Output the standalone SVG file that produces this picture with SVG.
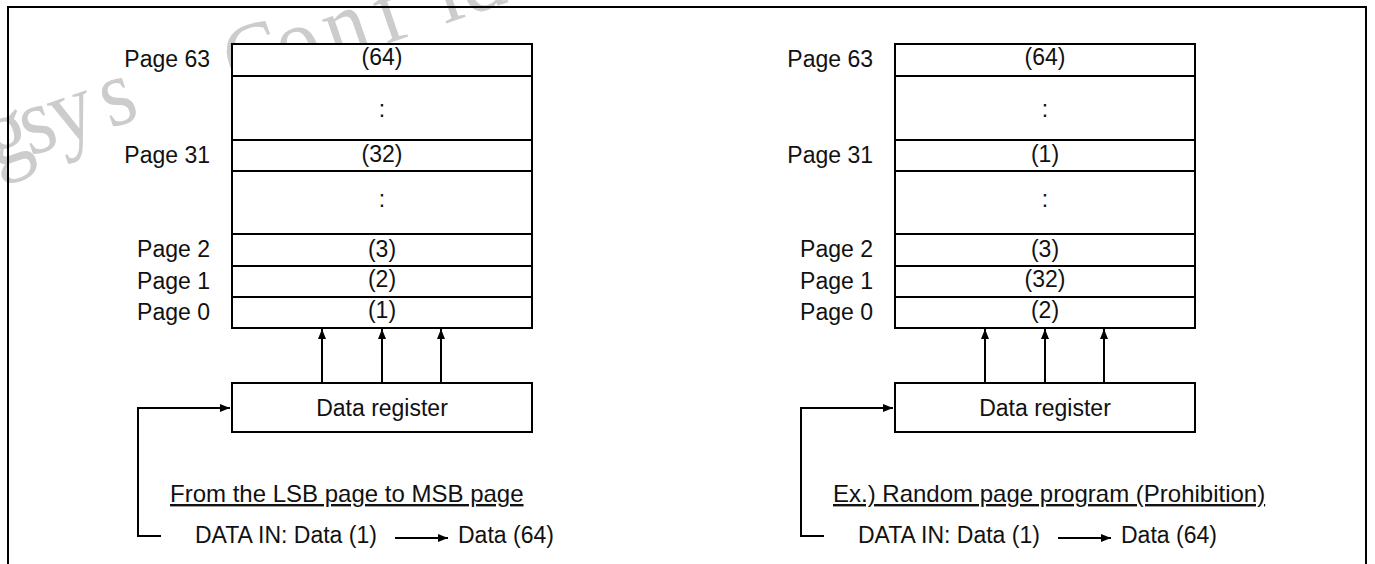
<svg xmlns="http://www.w3.org/2000/svg" width="1375" height="564" viewBox="0 0 1375 564">
<defs>
<marker id="ah" viewBox="0 0 10 8" refX="10" refY="4" markerWidth="10" markerHeight="8" markerUnits="userSpaceOnUse" orient="auto"><path d="M0,0 L10,4 L0,8 z" fill="#000"/></marker>
<style>
.t{font-family:"Liberation Sans",Arial,sans-serif;font-size:23px;fill:#111}
.c{text-anchor:middle}
.e{text-anchor:end}
.u{text-decoration:underline;font-size:24px}
.box{fill:#fff;stroke:#000;stroke-width:2}
.ln{fill:none;stroke:#000;stroke-width:2}
.wm{font-family:"Liberation Serif","Times New Roman",serif;font-size:96px;fill:#cccccc}
</style>
</defs>
<rect width="1375" height="564" fill="#fff"/>
<g id="watermark">
<text class="wm" y="0" transform="translate(228,88) rotate(-19) scale(0.9,1)" x="-445 -385 -330 -273.7 -232.6 -197.3 -138.6 -75 6 65 121.3 180 250.5 278.7 338 393 448 478 508 558" dy="0 0 0 0 0 0 0 0 10">Longsys Confidential</text>
</g>
<g id="frame"><path class="ln" d="M8,564 V7 H1366 V564"/></g>

<g id="left-memory">
<rect class="box" x="232" y="44" width="300" height="32"/>
<rect class="box" x="232" y="76" width="300" height="64"/>
<rect class="box" x="232" y="140" width="300" height="31"/>
<rect class="box" x="232" y="171" width="300" height="63"/>
<rect class="box" x="232" y="234" width="300" height="32"/>
<rect class="box" x="232" y="266" width="300" height="31"/>
<rect class="box" x="232" y="297" width="300" height="31"/>
<text class="t c" x="382" y="65">(64)</text>
<text class="t c" x="382" y="117">:</text>
<text class="t c" x="382" y="162">(32)</text>
<text class="t c" x="382" y="207">:</text>
<text class="t c" x="382" y="257">(3)</text>
<text class="t c" x="382" y="287">(2)</text>
<text class="t c" x="382" y="318">(1)</text>
</g>
<g id="left-labels">
<text class="t e" x="210" y="67">Page 63</text>
<text class="t e" x="210" y="163">Page 31</text>
<text class="t e" x="210" y="257">Page 2</text>
<text class="t e" x="210" y="289">Page 1</text>
<text class="t e" x="210" y="320">Page 0</text>
</g>
<g id="left-register">
<rect class="box" x="232" y="383" width="300" height="49"/>
<text class="t c" x="382" y="416">Data register</text>
</g>
<g id="left-caption">
<text class="t u" x="170" y="502">From the LSB page to MSB page</text>
<text class="t" x="195" y="543">DATA IN: Data (1)</text>
<text class="t" x="458" y="543">Data (64)</text>
</g>

<g id="right-memory">
<rect class="box" x="895" y="44" width="300" height="32"/>
<rect class="box" x="895" y="76" width="300" height="64"/>
<rect class="box" x="895" y="140" width="300" height="31"/>
<rect class="box" x="895" y="171" width="300" height="63"/>
<rect class="box" x="895" y="234" width="300" height="32"/>
<rect class="box" x="895" y="266" width="300" height="31"/>
<rect class="box" x="895" y="297" width="300" height="31"/>
<text class="t c" x="1045" y="65">(64)</text>
<text class="t c" x="1045" y="117">:</text>
<text class="t c" x="1045" y="162">(1)</text>
<text class="t c" x="1045" y="207">:</text>
<text class="t c" x="1045" y="257">(3)</text>
<text class="t c" x="1045" y="287">(32)</text>
<text class="t c" x="1045" y="318">(2)</text>
</g>
<g id="right-labels">
<text class="t e" x="873" y="67">Page 63</text>
<text class="t e" x="873" y="163">Page 31</text>
<text class="t e" x="873" y="257">Page 2</text>
<text class="t e" x="873" y="289">Page 1</text>
<text class="t e" x="873" y="320">Page 0</text>
</g>
<g id="right-register">
<rect class="box" x="895" y="383" width="300" height="49"/>
<text class="t c" x="1045" y="416">Data register</text>
</g>
<g id="right-caption">
<text class="t u" x="833" y="502">Ex.) Random page program (Prohibition)</text>
<text class="t" x="858" y="543">DATA IN: Data (1)</text>
<text class="t" x="1121" y="543">Data (64)</text>
</g>

<g id="connectors">
<line class="ln" x1="322" y1="383" x2="322" y2="329" marker-end="url(#ah)"/>
<line class="ln" x1="382" y1="383" x2="382" y2="329" marker-end="url(#ah)"/>
<line class="ln" x1="441" y1="383" x2="441" y2="329" marker-end="url(#ah)"/>
<path class="ln" d="M161,536 H138 V408 H230" marker-end="url(#ah)"/>
<line class="ln" x1="395" y1="538" x2="448" y2="538" marker-end="url(#ah)"/>
<line class="ln" x1="985" y1="383" x2="985" y2="329" marker-end="url(#ah)"/>
<line class="ln" x1="1045" y1="383" x2="1045" y2="329" marker-end="url(#ah)"/>
<line class="ln" x1="1104" y1="383" x2="1104" y2="329" marker-end="url(#ah)"/>
<path class="ln" d="M824,536 H801 V408 H893" marker-end="url(#ah)"/>
<line class="ln" x1="1058" y1="538" x2="1111" y2="538" marker-end="url(#ah)"/>
</g>
</svg>
